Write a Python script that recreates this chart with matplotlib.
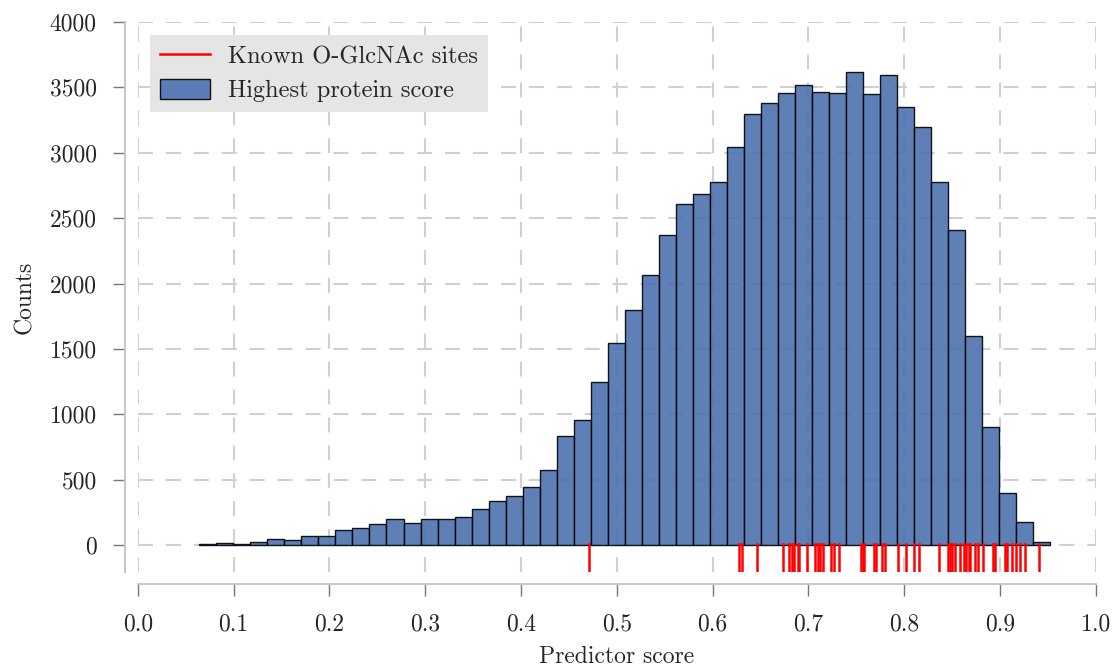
import numpy as np
import matplotlib
matplotlib.use("Agg")
import matplotlib.pyplot as plt

plt.rcParams['font.family'] = ['cmr10', 'DejaVu Serif']
plt.rcParams['mathtext.fontset'] = 'cm'
plt.rcParams['axes.unicode_minus'] = False
plt.rcParams['axes.formatter.use_mathtext'] = True

# Histogram (50 bins) of highest protein scores
bin_start = 0.0643
bin_end = 0.952
counts = [5, 15, 8, 20, 43, 38, 66, 71, 117, 133,
          161, 201, 171, 196, 198, 212, 275, 337, 375, 446,
          571, 831, 959, 1249, 1542, 1795, 2063, 2369, 2611, 2687,
          2779, 3041, 3296, 3378, 3454, 3518, 3467, 3454, 3620, 3449,
          3595, 3347, 3199, 2779, 2409, 1598, 902, 400, 178, 20]

# Known O-GlcNAc sites (rug)
known_sites = [0.471, 0.627, 0.631, 0.646, 0.673, 0.680, 0.683, 0.685, 0.689, 0.690,
               0.698, 0.707, 0.710, 0.712, 0.715, 0.723, 0.727, 0.732, 0.755, 0.757,
               0.758, 0.768, 0.770, 0.777, 0.780, 0.793, 0.802, 0.810, 0.815, 0.836,
               0.846, 0.848, 0.850, 0.853, 0.858, 0.862, 0.864, 0.867, 0.869, 0.874,
               0.877, 0.882, 0.893, 0.895, 0.905, 0.907, 0.912, 0.917, 0.921, 0.926,
               0.941]

xticks = [0.0, 0.1, 0.2, 0.3, 0.4, 0.5, 0.6, 0.7, 0.8, 0.9, 1.0]
yticks = [0, 500, 1000, 1500, 2000, 2500, 3000, 3500, 4000]

fig = plt.figure(figsize=(11.19, 6.69), dpi=100)
ax = fig.add_axes([0.1231, 0.145, 0.8563, 0.8221])

edges = np.linspace(bin_start, bin_end, len(counts) + 1)
ax.bar(edges[:-1], counts, width=np.diff(edges), align='edge',
       color='#4C72B0', alpha=0.9, edgecolor='black', linewidth=1.0,
       label='Highest protein score', zorder=2)

for i, s in enumerate(known_sites):
    ax.axvline(s, ymin=0, ymax=0.05, color='red', lw=1.8, zorder=3,
               label='Known O-GlcNAc sites' if i == 0 else None)

ax.set_xlim(0, 1)
ax.set_ylim(-206, 4000)
ax.set_xticks(xticks)
ax.set_xticklabels([f"{t:.1f}" for t in xticks])
ax.set_yticks(yticks)
ax.set_yticklabels([str(t) for t in yticks])

ax.grid(True, color='#d0d0d0', linestyle=(0, (7.2, 6.2)), linewidth=1.5, zorder=0)
ax.set_axisbelow(True)

for side in ['top', 'right']:
    ax.spines[side].set_visible(False)
ax.spines['left'].set_position(('outward', 9))
ax.spines['bottom'].set_position(('outward', 9))
for side in ['left', 'bottom']:
    ax.spines[side].set_color('#c8c8c8')
    ax.spines[side].set_linewidth(1.5)

ax.tick_params(axis='both', direction='out', length=8.5, width=1.0,
               color='#777777', labelcolor='#262626', labelsize=17, pad=12)

ax.set_xlabel('Predictor score', fontsize=17, color='#262626', labelpad=8)
ax.set_ylabel('Counts', fontsize=17, color='#262626', labelpad=10)

handles, labels = ax.get_legend_handles_labels()
order = [labels.index('Known O-GlcNAc sites'), labels.index('Highest protein score')]
leg = ax.legend([handles[i] for i in order], [labels[i] for i in order],
                loc='upper left', bbox_to_anchor=(0.0128, 0.976), borderaxespad=0,
                fontsize=17.6, frameon=True, fancybox=False, framealpha=1.0,
                handlelength=2.05, handleheight=0.85, handletextpad=0.75,
                borderpad=0.4, labelspacing=0.45)
leg.get_frame().set_facecolor('#e5e5e5')
leg.get_frame().set_edgecolor('none')
for t in leg.get_texts():
    t.set_color('#262626')

fig.savefig('out.png', dpi=100)
